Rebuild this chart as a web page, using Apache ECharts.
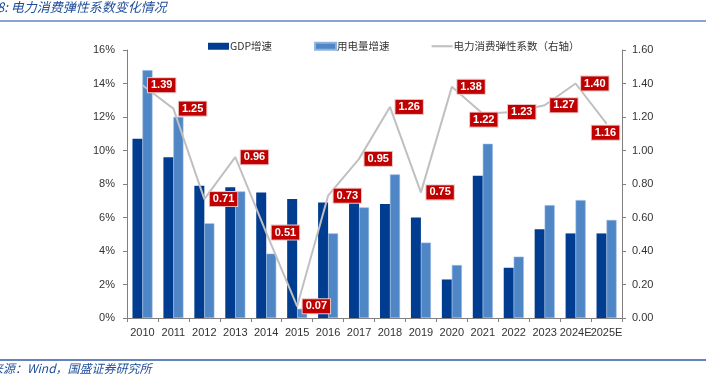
<!DOCTYPE html>
<html>
<head>
<meta charset="utf-8">
<title>电力消费弹性系数变化情况</title>
<script src="https://cdn.jsdelivr.net/npm/echarts@6/dist/echarts.min.js"></script>
<style>
html, body { margin: 0; padding: 0; background: #fff; }
#chart { width: 706px; height: 377px; }
</style>
</head>
<body>
<div id="chart"></div>
<script>
// 年份
const years = ['2010', '2011', '2012', '2013', '2014', '2015', '2016', '2017', '2018', '2019', '2020', '2021', '2022', '2023', '2024E', '2025E'];
// GDP增速（%）
const gdpGrowth = [10.7, 9.6, 7.9, 7.8, 7.5, 7.1, 6.9, 6.95, 6.8, 6.0, 2.3, 8.5, 3.0, 5.3, 5.05, 5.05];
// 用电量增速（%）
const powerGrowth = [14.8, 12.0, 5.65, 7.55, 3.84, 0.55, 5.05, 6.6, 8.57, 4.5, 3.16, 10.4, 3.66, 6.74, 7.04, 5.85];
// 电力消费弹性系数（右轴）
const elasticity = [1.39, 1.25, 0.71, 0.96, 0.51, 0.07, 0.73, 0.95, 1.26, 0.75, 1.38, 1.22, 1.23, 1.27, 1.40, 1.16];
// 左轴、右轴刻度
const leftTicks = { min: 0, max: 16, interval: 2 };
const rightTicks = { min: 0, max: 1.6, interval: 0.2 };

const numFont = '"Liberation Sans", Arial, "Noto Sans CJK SC", sans-serif';
const cnFont = '"Noto Sans CJK SC", "Liberation Sans", sans-serif';

// 个别标签不放在右侧
const labelOverride = {
    11: { position: 'inside', offset: [1, 6] },
    12: { position: 'inside', offset: [8, 0] },
    15: { position: 'inside', offset: [-1, 9] }
};

let chart = echarts.init(document.getElementById('chart'));
let option = {
    animation: false,
    textStyle: { fontFamily: numFont },
    graphic: [
        {
            type: 'text',
            left: -3,
            top: 1,
            style: { text: '8: 电力消费弹性系数变化情况', fill: '#1F4E9A', font: 'italic 13px ' + cnFont }
        },
        {
            type: 'line',
            shape: { x1: 0, y1: 21, x2: 706, y2: 21 },
            style: { stroke: '#5B87C5', lineWidth: 1.5 }
        },
        {
            type: 'line',
            shape: { x1: 0, y1: 360, x2: 706, y2: 360 },
            style: { stroke: '#2E5AA8', lineWidth: 1.5 }
        },
        {
            type: 'text',
            left: -9,
            top: 362,
            style: { text: '来源：Wind，国盛证券研究所', fill: '#1F4E9A', font: 'italic 12px ' + cnFont }
        }
    ],
    legend: {
        left: 203,
        top: 36,
        itemWidth: 21,
        itemHeight: 7,
        itemGap: 42,
        textStyle: { fontSize: 10.5, color: '#333', fontFamily: cnFont, padding: [0, 0, 0, -4] },
        data: [
            { name: 'GDP增速', icon: 'rect' },
            { name: '用电量增速', icon: 'rect' },
            { name: '电力消费弹性系数（右轴）', icon: 'path://M0,0 L20,0 L20,2 L0,2 Z', itemStyle: { color: '#C0C0C0' } }
        ]
    },
    grid: {
        left: 127,
        right: 84,
        top: 50,
        bottom: 59,
        outerBoundsMode: 'none'
    },
    xAxis: {
        type: 'category',
        data: years,
        axisLine: { lineStyle: { color: '#808080' } },
        axisTick: { show: true, length: 4, lineStyle: { color: '#808080' } },
        axisLabel: { color: '#333', fontSize: 11, margin: 9, interval: 0 }
    },
    yAxis: [
        {
            type: 'value',
            min: leftTicks.min,
            max: leftTicks.max,
            interval: leftTicks.interval,
            axisLine: { show: true, lineStyle: { color: '#808080' } },
            axisTick: { show: true, length: 4, lineStyle: { color: '#808080' } },
            splitLine: { show: false },
            axisLabel: { color: '#333', fontSize: 11, margin: 12, formatter: '{value}%' }
        },
        {
            type: 'value',
            min: rightTicks.min,
            max: rightTicks.max,
            interval: rightTicks.interval,
            position: 'right',
            axisLine: { show: true, lineStyle: { color: '#808080' } },
            axisTick: { show: true, length: 4, lineStyle: { color: '#808080' } },
            splitLine: { show: false },
            axisLabel: {
                color: '#333',
                fontSize: 11,
                margin: 10,
                formatter: function (v) {
                    return v.toFixed(2);
                }
            }
        }
    ],
    series: [
        {
            name: 'GDP增速',
            type: 'bar',
            barWidth: 10,
            barGap: '0%',
            itemStyle: { color: '#003D91' },
            data: gdpGrowth
        },
        {
            name: '用电量增速',
            type: 'bar',
            barWidth: 10,
            barGap: '0%',
            itemStyle: { color: '#4F86C6', borderColor: '#8FB2DD', borderWidth: 0.6 },
            data: powerGrowth
        },
        {
            name: '电力消费弹性系数（右轴）',
            type: 'line',
            yAxisIndex: 1,
            symbol: 'circle',
            symbolSize: 1,
            itemStyle: { color: '#C0C0C0' },
            lineStyle: { color: '#C0C0C0', width: 2 },
            z: 5,
            label: {
                show: true,
                position: 'right',
                distance: 5,
                color: '#fff',
                fontWeight: 'bold',
                fontSize: 11,
                lineHeight: 12,
                padding: [1, 3],
                backgroundColor: '#C00000',
                borderColor: '#E8C4C4',
                borderWidth: 1,
                formatter: function (p) {
                    return p.value.toFixed(2);
                }
            },
            data: elasticity.map(function (v, i) {
                let item = { value: v };
                if (labelOverride[i]) {
                    item.label = labelOverride[i];
                }
                return item;
            })
        }
    ]
};
chart.setOption(option);
window.onresize = chart.resize;
</script>
</body>
</html>
